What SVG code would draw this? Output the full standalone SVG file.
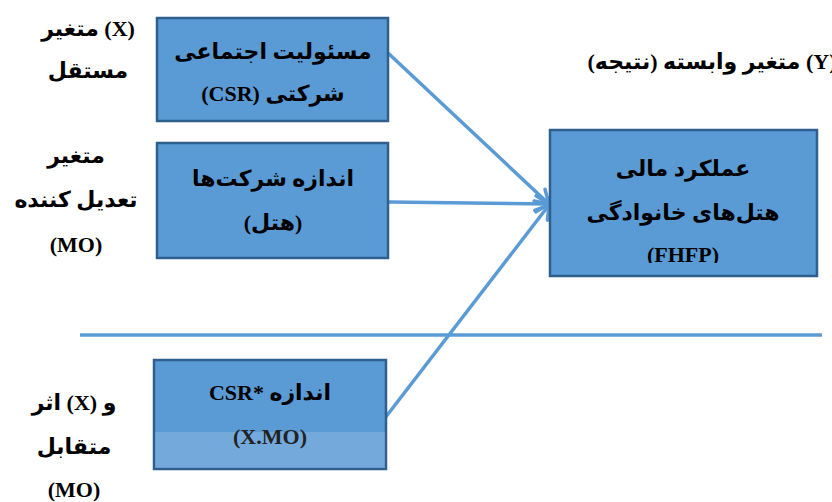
<svg xmlns="http://www.w3.org/2000/svg" width="832" height="502" viewBox="0 0 832 502">
<style>
.box{fill:#5b9bd5;stroke:#2f5f8f;stroke-width:2.5}
.t{font-family:"Liberation Serif","DejaVu Sans",serif;font-weight:bold;font-size:22px;fill:#000;text-anchor:middle;direction:rtl;unicode-bidi:embed}
.c{stroke:#5b9bd5;stroke-width:3.5;fill:none}
</style>
<defs>
<marker id="ah" markerUnits="userSpaceOnUse" markerWidth="24" markerHeight="24" refX="15" refY="10" orient="auto">
<path d="M2,2 L15,10 L2,18" fill="none" stroke="#5b9bd5" stroke-width="3.5" stroke-linecap="round"/>
</marker>
<clipPath id="cl4"><rect x="550" y="130" width="268" height="133"/></clipPath>
</defs>
<rect width="832" height="502" fill="#fff"/>
<g id="labels">
<text class="t" x="88" y="36">(X) متغیر</text>
<text class="t" x="88" y="78">مستقل</text>
<text class="t" x="76" y="163">متغیر</text>
<text class="t" x="76" y="207">تعدیل کننده</text>
<text class="t" x="76" y="252">(MO)</text>
<text class="t" x="712" y="69">(Y) متغیر وابسته (نتیجه)</text>
<text class="t" x="74" y="410">و (X) اثر</text>
<text class="t" x="74" y="454">متقابل</text>
<text class="t" x="74" y="497">(MO)</text>
</g>
<g id="connectors">
<line class="c" x1="80" y1="335" x2="822" y2="335"/>
<line class="c" x1="388" y1="53" x2="549" y2="204" marker-end="url(#ah)"/>
<line class="c" x1="389" y1="202" x2="549" y2="204" marker-end="url(#ah)"/>
<line class="c" x1="385" y1="418" x2="549" y2="205" marker-end="url(#ah)"/>
</g>
<g id="n1">
<rect class="box" x="157" y="18" width="231" height="103"/>
<text class="t" x="273" y="59">مسئولیت اجتماعی</text>
<text class="t" x="273" y="101">شرکتی (CSR)</text>
</g>
<g id="n2">
<rect class="box" x="157" y="143" width="231" height="115"/>
<text class="t" x="273" y="186">اندازه شرکت‌ها</text>
<text class="t" x="273" y="230">(هتل)</text>
</g>
<g id="n3">
<rect class="box" x="154" y="360" width="232" height="109"/>
<rect x="155" y="432" width="230" height="36" fill="#fff" opacity="0.15"/>
<text class="t" x="270" y="400">اندازه  *CSR</text>
<text class="t" x="270" y="444" style="fill:#222">(X.MO)</text>
</g>
<g id="n4">
<rect class="box" x="550" y="130" width="267" height="146"/>
<text class="t" x="683" y="176">عملکرد مالی</text>
<text class="t" x="683" y="220">هتل‌های خانوادگی</text>
<text class="t" x="683" y="262" clip-path="url(#cl4)">(FHFP)</text>
</g>
</svg>
